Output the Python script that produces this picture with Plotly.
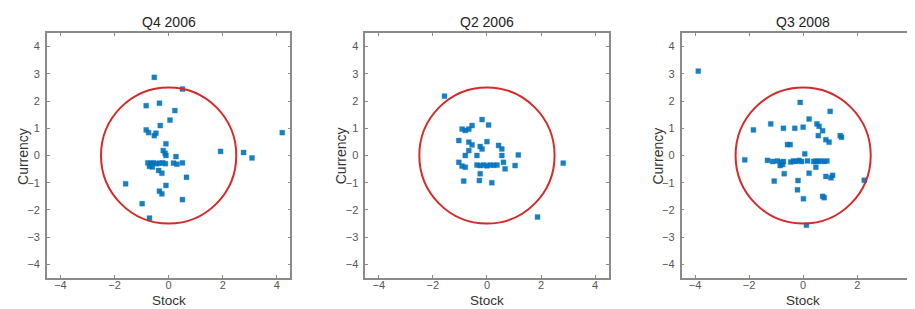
import plotly.graph_objects as go

# ---------------- data ----------------
titles = ["Q4 2006", "Q2 2006", "Q3 2008"]
RADIUS = 2.5

q4_2006_stock = [-0.53, 0.51, -0.83, -0.34, 0.23, 0.05, -0.31, -0.83, -0.74, -0.53, -0.47,
                 -0.10, -0.20, -0.13, -0.10, 0.27, -0.77, -0.65, -0.56, -0.44, -0.34, -0.22,
                 -0.12, 0.18, 0.31, 0.51, -0.71, -0.60, -0.37, -0.25, 0.66, -0.10, -0.34,
                 -0.25, 0.51, -0.98, -1.59, -0.71, 1.92, 2.77, 3.08, 4.20]
q4_2006_curr = [2.87, 2.44, 1.83, 1.92, 1.65, 1.30, 1.10, 0.94, 0.84, 0.73, 0.82,
                0.43, 0.18, 0.08, 0.00, -0.04, -0.27, -0.29, -0.27, -0.30, -0.28, -0.27,
                -0.30, -0.28, -0.32, -0.27, -0.40, -0.42, -0.55, -0.65, -0.80, -1.10, -1.31,
                -1.41, -1.62, -1.77, -1.04, -2.30, 0.15, 0.11, -0.09, 0.84]

q2_2006_stock = [-1.57, 2.82, 1.87, -0.18, 0.06, -0.55, -0.67, -0.80, -0.92, -1.04, -0.67,
                 -0.55, 0.00, -0.67, -0.25, -0.18, 0.43, 0.55, 1.16, -0.80, -0.37, 0.55,
                 -1.04, -0.92, -0.80, -0.37, -0.25, -0.12, 0.00, 0.12, 0.25, 0.37, 0.61,
                 0.67, 1.04, -0.25, -0.86, -0.28, 0.18]
q2_2006_curr = [2.18, -0.28, -2.26, 1.32, 1.12, 1.10, 0.97, 0.92, 0.97, 0.55, 0.49,
                0.39, 0.51, 0.18, 0.33, 0.24, 0.37, 0.24, 0.02, 0.00, 0.00, 0.00,
                -0.25, -0.39, -0.43, -0.35, -0.37, -0.35, -0.38, -0.35, -0.36, -0.35, -0.25,
                -0.49, -0.37, -0.67, -0.94, -0.92, -1.00]

q3_2008_stock = [-3.88, -0.11, 1.00, 0.22, -1.84, -1.20, -0.73, -0.31, 0.00, 0.51, 0.59,
                 0.72, 0.56, 1.37, 1.42, 0.84, 0.96, -0.58, -0.48, 0.06, -2.16, -1.32,
                 -1.13, -0.95, -0.83, -0.73, -0.46, -0.36, -0.27, -0.15, -0.06, 0.16, 0.39,
                 0.47, 0.56, 0.66, 0.78, 0.88, -0.85, -0.76, 0.47, -0.70, 0.22, -1.07,
                 -0.19, 0.84, 1.03, 1.09, -0.21, 0.01, 0.72, 0.78, 2.26, 0.12]
q3_2008_curr = [3.10, 1.95, 1.62, 1.34, 0.94, 1.16, 1.00, 1.00, 1.04, 1.16, 1.07,
                0.91, 0.73, 0.73, 0.67, 0.58, 0.49, 0.40, 0.40, 0.06, -0.16, -0.18,
                -0.22, -0.20, -0.25, -0.22, -0.24, -0.20, -0.22, -0.18, -0.22, -0.20, -0.22,
                -0.20, -0.22, -0.20, -0.22, -0.20, -0.37, -0.33, -0.43, -0.67, -0.65, -0.94,
                -0.92, -0.77, -0.82, -0.73, -1.26, -1.59, -1.50, -1.55, -0.91, -2.56]

x_tickvals = [-4, -2, 0, 2, 4]
y_tickvals = [-4, -3, -2, -1, 0, 1, 2, 3, 4]

series = [(q4_2006_stock, q4_2006_curr), (q2_2006_stock, q2_2006_curr), (q3_2008_stock, q3_2008_curr)]

# ---------------- layout ----------------
W, H = 915, 309
x_domains = [[39 / W, 283 / W], [358 / W, 602 / W], [675 / W, 1.0]]
y_domain = [(H - 270) / H, (H - 25) / H]
x_ranges = [[-4.5, 4.5], [-4.5, 4.5], [-4.5, 4.36]]

BLUE = "#0072BD"
RED = "#D42A2A"
AXIS = "#8a8a8a"
FONT = "Liberation Sans, Arial, Helvetica, sans-serif"

fig = go.Figure()
layout = dict(
    width=W, height=H, margin=dict(l=0, r=0, t=0, b=0),
    paper_bgcolor="white", plot_bgcolor="white", showlegend=False,
    font=dict(family=FONT, color="#444"),
)
annotations = []
shapes = []

for i, ((xs, ys), title) in enumerate(zip(series, titles)):
    n = "" if i == 0 else str(i + 1)
    xa, ya = "x" + n, "y" + n
    fig.add_trace(go.Scatter(
        x=xs, y=ys, mode="markers", xaxis=xa, yaxis=ya,
        marker=dict(symbol="square", size=5, color=BLUE, opacity=0.9,
                    line=dict(width=0.6, color="rgba(0,114,189,0.5)")),
        hoverinfo="skip"))
    shapes.append(dict(type="circle", xref=xa, yref=ya,
                       x0=-RADIUS, x1=RADIUS, y0=-RADIUS, y1=RADIUS,
                       line=dict(color=RED, width=2), layer="above"))
    axis_common = dict(showgrid=False, zeroline=False, showline=True, linecolor=AXIS,
                       linewidth=1.5, mirror="allticks", ticks="inside", ticklen=3,
                       tickcolor=AXIS, tickwidth=1,
                       tickfont=dict(size=11, color="#555", family=FONT))
    layout["xaxis" + n] = dict(axis_common, domain=x_domains[i], range=x_ranges[i],
                               tickvals=x_tickvals, anchor=ya, ticklabelstandoff=-4)
    layout["yaxis" + n] = dict(axis_common, domain=y_domain, range=[-4.5, 4.5],
                               tickvals=y_tickvals, anchor=xa, ticklabelstandoff=3)
    left = x_domains[i][0] * W
    cx = (left + 122) / W
    annotations.append(dict(text=title, xref="paper", yref="paper", x=cx, y=(H - 14) / H,
                            showarrow=False, xanchor="center", yanchor="middle",
                            font=dict(size=14, color="#222", family=FONT)))
    annotations.append(dict(text="Stock", xref="paper", yref="paper", x=cx, y=(H - 292.5) / H,
                            showarrow=False, xanchor="center", yanchor="middle",
                            font=dict(size=13.5, color="#333", family=FONT)))
    annotations.append(dict(text="Currency", xref="paper", yref="paper",
                            x=(left - 24) / W, y=(H - 148) / H,
                            showarrow=False, textangle=-90, xanchor="center", yanchor="middle",
                            font=dict(size=14, color="#333", family=FONT)))

layout["annotations"] = annotations
layout["shapes"] = shapes
fig.update_layout(**layout)
fig.write_html("out.html")
